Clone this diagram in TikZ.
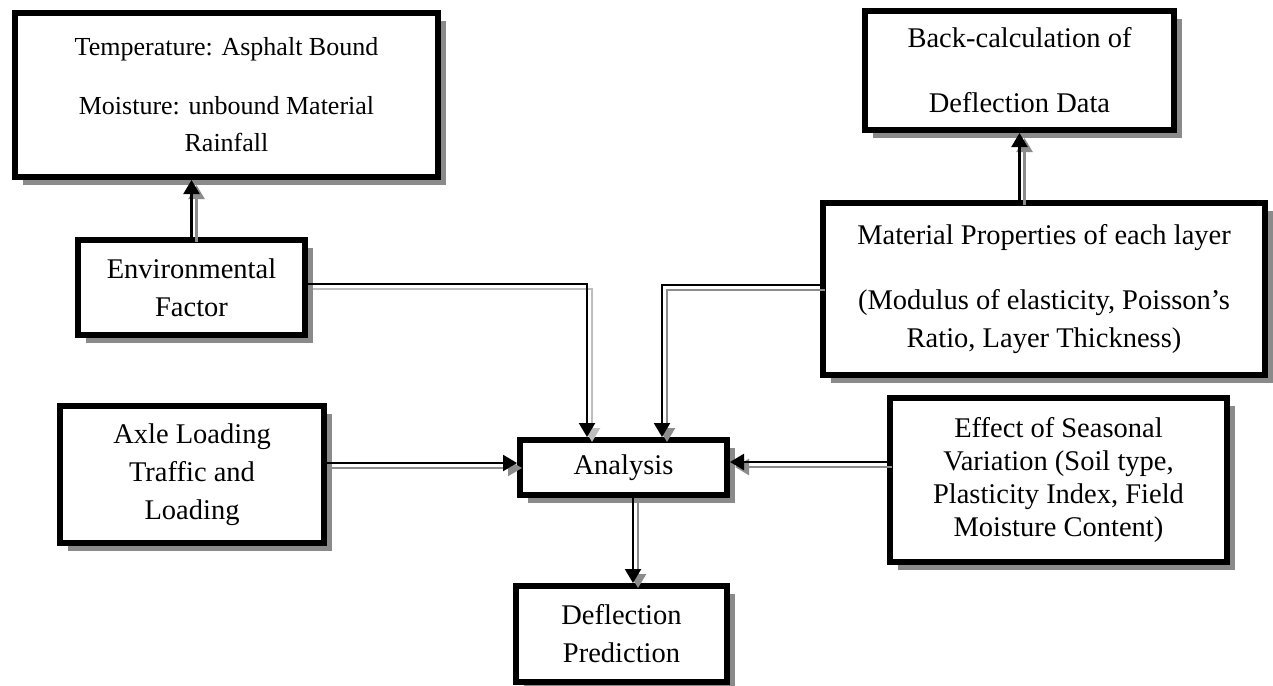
\documentclass[tikz,border=0pt]{standalone}
\usepackage{fontspec}
\setmainfont{Liberation Serif}
\usetikzlibrary{arrows.meta,shadows}
\definecolor{boxsh}{HTML}{8A8A8A}
\definecolor{shgray}{HTML}{8C8C8C}
\definecolor{lightsh}{HTML}{BDBDBD}
\newcommand\dconn[2][shgray]{\draw[lnsh=#1] #2; \draw[ln] #2;}
\begin{document}
\begin{tikzpicture}[x=1pt,y=-1pt,
  box/.style={draw=black, line width=6pt, fill=white, inner sep=0pt, align=center,
    drop shadow={shadow xshift=8pt, shadow yshift=-8pt, fill=boxsh, opacity=1},
    font=\fontsize{28.5}{38}\selectfont},
  ln/.style={draw=black, line width=2.2pt, -{Triangle[length=14pt,width=16pt]}},
  lnsh/.style={draw=#1, line width=2.4pt, -{Triangle[length=14pt,width=16pt]},
    transform canvas={shift={(5pt,-5pt)}}}]
\useasboundingbox (0,0) rectangle (1273,685);
\fill[white] (0,0) rectangle (1273,685);

\node[box, minimum width=423pt, minimum height=164pt, font=\fontsize{26}{37}\selectfont] (temp) at (226.5,95)
  {Temperature: Asphalt Bound\\[22pt]Moisture: unbound Material\\Rainfall};
\node[box, minimum width=227pt, minimum height=95pt] (env) at (191.5,287.5)
  {Environmental\\Factor};
\node[box, minimum width=309pt, minimum height=119pt] (back) at (1019.5,70.5)
  {Back-calculation of\\[27pt]Deflection Data};
\node[box, minimum width=442pt, minimum height=172pt] (mat) at (1044,289)
  {Material Properties of each layer\\[27pt](Modulus of elasticity, Poisson’s\\Ratio, Layer Thickness)};
\node[box, minimum width=264pt, minimum height=137pt] (axle) at (192,474.5)
  {Axle Loading\\Traffic and\\Loading};
\node[box, minimum width=207pt, minimum height=55pt] (anal) at (623.5,467.5)
  {Analysis};
\node[box, minimum width=337pt, minimum height=164pt, font=\fontsize{28.5}{33}\selectfont] (eff) at (1058.5,480)
  {Effect of Seasonal\\Variation (Soil type,\\Plasticity Index, Field\\Moisture Content)};
\node[box, minimum width=211pt, minimum height=96pt] (defl) at (621.5,634)
  {Deflection\\Prediction};

\coordinate (aw) at ([yshift=4.5pt]anal.west);
\coordinate (ae) at ([yshift=5.5pt]anal.east);
\coordinate (as) at ([xshift=9.5pt]anal.south);
\coordinate (an1) at ([xshift=-36.5pt]anal.north);
\coordinate (an2) at ([xshift=38.5pt]anal.north);
\coordinate (ee) at ([yshift=3.5pt]env.east);
\coordinate (mw) at ([yshift=4pt]mat.west);

\dconn{(env.north) -- (env.north |- temp.south)}
\dconn{(mat.north -| back.south) -- (back.south)}
\dconn[lightsh]{(ee) -| (an1)}
\dconn{(mw) -| (an2)}
\dconn{(aw -| axle.east) -- (aw)}
\dconn{(ae -| eff.west) -- (ae)}
\dconn{(as) -- (as |- defl.north)}
\end{tikzpicture}
\end{document}
